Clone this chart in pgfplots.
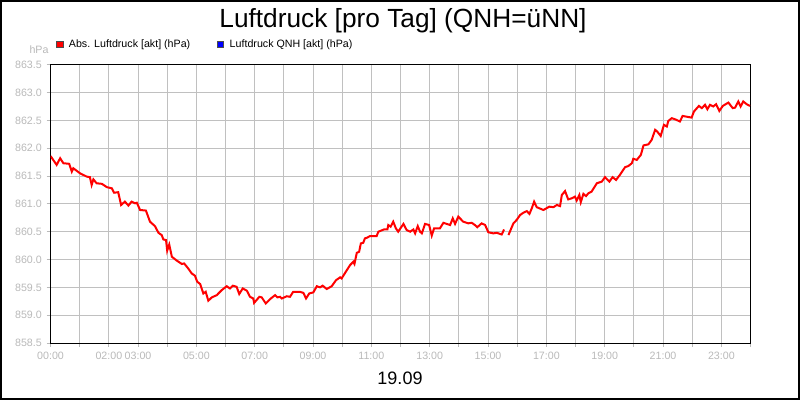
\documentclass[border=0pt]{standalone}
\usepackage{fontspec}
\setmainfont{Liberation Sans}
\usepackage{pgfplots}
\pgfplotsset{compat=1.18}
\definecolor{tickgray}{RGB}{185,185,185}
\definecolor{gridgray}{RGB}{192,192,192}
\begin{document}
\begin{tikzpicture}
\useasboundingbox (0pt,0pt) rectangle (600pt,300pt);
\draw[line width=1.5pt] (0.75pt,0.75pt) rectangle (599.25pt,299.25pt);
\node[font=\fontsize{19.7}{24}\selectfont, anchor=base] at (302.25pt,279.5pt) {Luftdruck [pro Tag] (QNH=üNN]};
\node[font=\fontsize{13.5}{15}\selectfont, anchor=base] at (300pt,12pt) {19.09};
\node[font=\fontsize{8}{9}\selectfont, text=tickgray] at (29.25pt,262.5pt) {hPa};
\begin{axis}[
  at={(37.9pt,42.75pt)}, anchor=south west, scale only axis,
  width=525pt, height=208.7pt,
  xmin=0, xmax=24, ymin=858.5, ymax=863.5,
  xtick={0,1,...,24},
  xticklabels={00:00,,02:00,03:00,,05:00,,07:00,,09:00,,11:00,,13:00,,15:00,,17:00,,19:00,,21:00,,23:00,},
  ytick={858.5,859,859.5,860,860.5,861,861.5,862,862.5,863,863.5},
  yticklabels={858.5,859.0,859.5,860.0,860.5,861.0,861.5,862.0,862.5,863.0,863.5},
  xtick pos=bottom, ytick pos=left, tick align=outside,
  major tick length=3pt,
  tick style={tickgray, line width=0.75pt},
  ticklabel style={font=\fontsize{8}{9}\selectfont, text=tickgray},
  grid=major,
  major grid style={gridgray, line width=0.75pt},
  axis line style={black, line width=0.75pt},
  unbounded coords=jump,
  legend columns=2,
  legend style={at={(axis description cs:0,1)}, anchor=west, xshift=4pt, yshift=15.3pt,
    draw=none, fill=none, inner sep=0pt, font=\fontsize{8}{9}\selectfont,
    /tikz/every even column/.append style={column sep=18pt}},
  legend cell align=left,
]
\addlegendimage{legend image code/.code={\filldraw[fill=red,draw=black!70,line width=0.4pt](0.8pt,-2.4pt) rectangle (5.6pt,2.4pt); \path (8pt,0pt);}}
\addlegendentry{Abs. Luftdruck [akt] (hPa)}
\addlegendimage{legend image code/.code={\filldraw[fill=blue,draw=black!70,line width=0.4pt](0.8pt,-2.4pt) rectangle (5.6pt,2.4pt); \path (8pt,0pt);}}
\addlegendentry{Luftdruck QNH [akt] (hPa)}
\addplot[red, line width=1.5pt, forget plot] coordinates {
(0.00,861.86) (0.21,861.70) (0.33,861.82) (0.44,861.73) (0.64,861.72) (0.73,861.58) (0.78,861.64)
(1.01,861.55) (1.24,861.49) (1.35,861.48) (1.41,861.34) (1.47,861.44) (1.58,861.37) (1.76,861.36)
(1.93,861.30) (2.10,861.28) (2.18,861.20) (2.32,861.21) (2.42,860.98) (2.55,861.04) (2.67,860.97)
(2.78,861.04) (2.90,861.01) (2.96,861.02) (3.07,860.89) (3.27,860.88) (3.41,860.68) (3.58,860.60)
(3.70,860.48) (3.81,860.44) (3.87,860.36) (3.96,860.35) (4.00,860.16) (4.07,860.27) (4.16,860.05)
(4.33,859.98) (4.50,859.92) (4.58,859.93) (4.72,859.84) (4.84,859.75) (4.95,859.71) (5.03,859.60)
(5.13,859.56) (5.24,859.39) (5.32,859.42) (5.41,859.26) (5.53,859.32) (5.70,859.36) (5.87,859.45)
(6.04,859.52) (6.15,859.48) (6.25,859.53) (6.38,859.51) (6.47,859.38) (6.59,859.48) (6.73,859.44)
(6.84,859.33) (6.95,859.30) (6.98,859.22) (7.16,859.33) (7.24,859.32) (7.38,859.21) (7.53,859.29)
(7.70,859.36) (7.78,859.32) (7.87,859.33) (7.93,859.30) (8.10,859.34) (8.21,859.33) (8.32,859.42)
(8.55,859.42) (8.67,859.40) (8.76,859.30) (8.87,859.39) (9.01,859.41) (9.13,859.52) (9.24,859.50)
(9.33,859.53) (9.47,859.47) (9.64,859.52) (9.79,859.63) (9.93,859.68) (9.98,859.66) (10.16,859.81)
(10.27,859.90) (10.38,859.96) (10.42,859.92) (10.50,860.12) (10.58,860.14) (10.64,860.29) (10.72,860.30)
(10.78,860.38) (10.84,860.39) (10.95,860.42) (11.18,860.42) (11.24,860.50) (11.43,860.54) (11.55,860.54)
(11.58,860.62) (11.66,860.59) (11.75,860.68) (11.84,860.56) (11.92,860.50) (12.10,860.64) (12.21,860.53)
(12.33,860.50) (12.44,860.54) (12.50,860.47) (12.59,860.60) (12.67,860.50) (12.73,860.47) (12.84,860.64)
(12.98,860.62) (13.07,860.43) (13.15,860.56) (13.35,860.56) (13.47,860.66) (13.70,860.62) (13.79,860.74)
(13.87,860.64) (13.98,860.77) (14.15,860.68) (14.32,860.65) (14.44,860.66) (14.55,860.62) (14.63,860.58)
(14.78,860.65) (14.90,860.62) (15.01,860.49) (15.18,860.47) (15.30,860.48) (15.47,860.45) (15.55,860.54)
(15.62,nan)
(15.70,860.44) (15.87,860.65) (15.98,860.71) (16.10,860.80) (16.21,860.84) (16.33,860.87) (16.42,860.82)
(16.50,860.92) (16.58,861.04) (16.67,860.94) (16.90,860.89) (17.10,860.95) (17.24,860.94) (17.36,860.98)
(17.47,860.96) (17.53,861.16) (17.64,861.23) (17.75,861.08) (17.87,861.10) (17.98,861.13) (18.04,861.06)
(18.13,861.16) (18.18,861.03) (18.27,861.18) (18.36,861.14) (18.44,861.19) (18.55,861.22) (18.73,861.37)
(18.90,861.40) (19.01,861.48) (19.16,861.40) (19.27,861.48) (19.39,861.43) (19.52,861.52) (19.70,861.66)
(19.81,861.68) (19.93,861.73) (19.98,861.81) (20.10,861.79) (20.24,861.88) (20.33,862.05) (20.50,862.07)
(20.61,862.15) (20.73,862.33) (20.80,862.30) (20.92,862.22) (21.03,862.42) (21.13,862.39) (21.18,862.49)
(21.30,862.54) (21.41,862.52) (21.58,862.48) (21.67,862.58) (21.98,862.55) (22.06,862.66) (22.23,862.76)
(22.33,862.72) (22.44,862.78) (22.52,862.70) (22.61,862.78) (22.72,862.75) (22.82,862.79) (22.93,862.67)
(23.05,862.76) (23.24,862.82) (23.39,862.72) (23.47,862.73) (23.58,862.84) (23.66,862.75) (23.75,862.84)
(23.87,862.79) (23.98,862.76)
};
\end{axis}
\end{tikzpicture}
\end{document}
